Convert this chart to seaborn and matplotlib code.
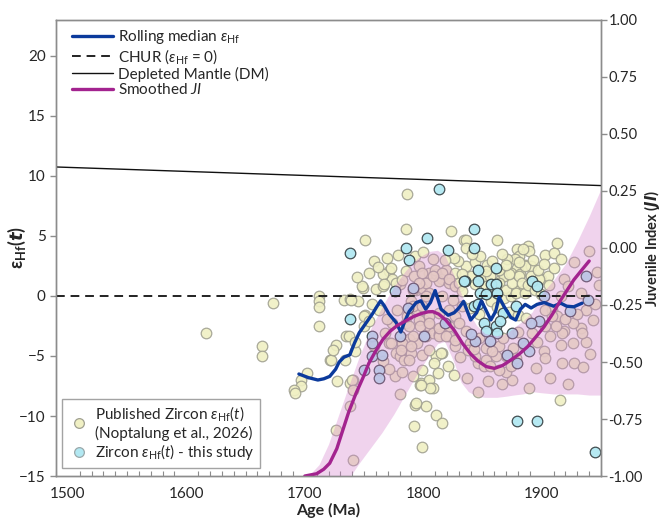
import matplotlib
matplotlib.use("Agg")
import matplotlib.pyplot as plt
from matplotlib.lines import Line2D
from matplotlib.ticker import MultipleLocator
import seaborn as sns

# ---- data ----
# published zircon eHf(t)
pub_age = [1617, 1664, 1664, 1673, 1712, 1712, 1712, 1712, 1721, 1702, 1697, 1697, 1691, 1692,
           1785, 1786, 1751, 1754, 1771, 1785, 1792, 1749, 1760, 1766, 1774, 1780, 1733, 1738,
           1745, 1751, 1750, 1735, 1742, 1726, 1722, 1727, 1738, 1741, 1780, 1798, 1805, 1808,
           1816, 1811, 1799, 1794, 1799, 1805, 1811, 1816, 1790, 1794, 1801, 1805, 1788, 1782,
           1777, 1771, 1768, 1780, 1784, 1790, 1795, 1802, 1808, 1813, 1818, 1823, 1834, 1793,
           1766, 1773, 1796, 1748, 1767, 1777, 1782, 1739, 1724, 1750, 1754, 1737, 1742, 1734,
           1740, 1741, 1738, 1726, 1741, 1793, 1802, 1811, 1816, 1792, 1799, 1797, 1809, 1815,
           1837, 1799, 1810, 1819, 1827, 1802, 1813, 1822, 1830, 1805, 1816, 1825, 1791, 1799,
           1774, 1785, 1796, 1805, 1813, 1822, 1827, 1833, 1782, 1791, 1813, 1822, 1827, 1781,
           1788, 1776, 1805, 1802, 1773, 1790, 1794, 1806, 1798, 1846, 1915, 1836, 1836, 1862,
           1913, 1888, 1889, 1879, 1881, 1903, 1910, 1916, 1877, 1886, 1891, 1879, 1836, 1854,
           1851, 1840, 1864, 1868, 1874, 1882, 1891, 1899, 1905, 1868, 1874, 1879, 1885, 1916,
           1940, 1947, 1948, 1927, 1919, 1922, 1933, 1919, 1933, 1937, 1927, 1916, 1902, 1903,
           1909, 1913, 1895, 1875, 1870, 1846, 1851, 1876, 1816, 1822, 1827, 1808, 1796, 1791,
           1788, 1797, 1805, 1813, 1822, 1830, 1836, 1819, 1827, 1839, 1847, 1853, 1864, 1870,
           1844, 1853, 1861, 1856, 1864, 1874, 1878, 1886, 1892, 1903, 1909, 1903, 1917, 1926,
           1926, 1934, 1937, 1917, 1830, 1833, 1844, 1853, 1850, 1864, 1870, 1875, 1881, 1886,
           1881, 1891, 1898, 1878, 1886, 1872, 1861, 1856, 1853, 1864, 1844,
           1871, 1884, 1893, 1897, 1883, 1870, 1858, 1848, 1866, 1888, 1894, 1899, 1906, 1910,
           1902, 1857, 1862, 1872, 1880, 1887, 1847, 1839, 1833, 1829, 1841, 1826, 1818, 1808,
           1800, 1779, 1769, 1758, 1762, 1744, 1757, 1763, 1769, 1778, 1786, 1758, 1766, 1771,
           1782, 1791, 1799, 1812, 1821, 1826, 1831, 1838, 1843, 1858, 1867, 1880, 1896, 1907,
           1912, 1920, 1930, 1943, 1945, 1941, 1935, 1922, 1907, 1889, 1866, 1855]
pub_eps = [-3.1, -4.2, -5.0, -0.6, 0.0, -0.4, -0.9, -2.5, -5.3, -6.4, -7.0, -7.5, -7.8, -8.1,
           5.55, 8.5, 4.7, 1.9, 2.1, 2.1, 1.65, 0.7, 0.6, 0.8, 1.4, 1.0, -0.3, -0.25,
           -0.45, -1.55, -2.5, -3.35, -4.6, -4.1, -5.3, -7.1, -7.25, -7.0, -8.2, -7.25, -7.0, -7.7,
           -4.75, -5.0, -4.9, 0.54, 0.68, 1.9, 1.8, 1.4, -0.43, -1.1, -2.0, -2.5, -3.6, -4.2,
           -4.75, -3.9, -3.1, -5.0, -5.3, -4.75, -3.9, -3.35, -3.1, -3.2, -2.5, 5.4, 4.7, 3.3,
           1.8, 2.35, 2.5, 0.8, 1.0, 1.1, 1.3, -0.35, -4.5, -1.7, -2.1, -3.35, -3.8, -5.3,
           -7.0, -7.8, -9.2, -11.15, -13.65, -9.05, -9.2, -9.9, -10.6, -10.8, -12.6, -7.4, -5.6, -4.75,
           -6.8, 1.94, 2.2, 2.2, 1.94, 1.1, 1.24, 1.1, 0.82, 0.27, 0.0, -0.3, -0.85, -0.85,
           -2.24, -2.24, -1.96, -1.7, -1.4, -1.13, -1.7, -0.85, -3.9, -3.35, -3.35, -3.35, -4.2, -4.47,
           -5.3, -6.7, -4.47, 0.0, -3.9, -4.2, -8.9, -7.7, -7.4, -8.0, -8.65, 4.7, 4.0, 4.7,
           4.45, 4.2, 3.75, 3.9, 3.3, 3.4, 3.55, 3.05, 3.05, 2.6, 2.5, 2.35, 2.5, 2.6,
           1.8, 1.65, 1.24, 1.65, 1.94, 1.8, 1.65, 1.38, 1.65, -0.15, 0.0, 0.4, 0.54, 0.0,
           3.75, 2.0, 0.88, 2.8, 1.38, 0.82, 0.27, -2.94, -2.66, -3.86, -5.6, -4.05, -4.6, -5.15,
           -1.13, -1.7, -6.0, -7.0, -6.3, -5.6, -5.86, -4.33, 1.94, 1.38, 0.82, 1.65, 1.1, 0.54,
           -2.5, -2.5, -2.24, -2.66, -2.5, -2.24, -2.94, -3.35, -3.63, -3.9, -3.5, -4.33, -4.2, -5.0,
           -5.0, -5.3, -5.0, -5.86, -6.15, -5.86, -5.15, -4.2, -3.07, -2.5, -1.7, -1.13, -3.07, -2.24,
           -3.9, -3.07, -1.13, -5.6, 1.1, 1.8, 0.96, 0.82, 1.65, 1.1, 0.54, 1.1, 1.65, 2.5,
           2.8, 1.1, 1.4, 0.27, 0.27, 1.8, 0.27, 1.65, 2.1, 2.2, 2.8,
           3.05, 3.9, 3.0, 2.2, 1.1, 2.6, 2.9, 3.3, 3.5, 0.9, 0.5, 0.2, 0.9, 2.3,
           2.7, -0.4, -0.9, -1.3, -1.6, -1.8, -1.5, -1.0, 0.4, 2.9, 3.5, 3.2, 3.0, 3.1,
           3.7, 3.4, 3.2, 2.9, 2.4, 1.6, -0.7, -1.2, -1.9, -1.2, -1.7, -4.2, -5.4, -6.1,
           -6.3, -6.7, -6.2, -6.4, -5.8, -6.6, -5.1, -4.5, -4.4, -4.6, -3.5, -3.0, -3.8, -3.3,
           -2.5, -1.9, -1.5, -2.0, -0.7, -4.8, -5.9, -7.3, -6.8, -7.7, -7.3, -7.1]

# zircon eHf(t), this study
new_age = [1803, 1785, 1788, 1738, 1821, 1776, 1738, 1813, 1843, 1843, 1846, 1861, 1835, 1846,
           1857, 1861, 1892, 1896, 1848, 1853, 1862, 1843, 1846, 1878, 1867, 1851, 1853, 1861,
           1865, 1862, 1879, 1896, 1945, 1834, 1757, 1757, 1765, 1750, 1763, 1763, 1791, 1787,
           1780, 1801, 1818, 1757, 1902, 1924, 1937, 1939, 1898, 1891, 1875, 1884, 1889, 1871,
           1879, 1844, 1856, 1840]
new_eps = [4.85, 4.0, 3.0, 3.6, 3.85, 0.4, -1.9, 8.9, 5.6, 3.97, 2.15, 2.35, 1.24, 1.24,
           0.96, 0.96, 1.24, 0.82, 0.27, 0.13, 0.27, -0.85, -0.7, -0.85, -1.4, -2.24, -2.94, -2.52,
           -2.1, -3.07, -10.45, -10.45, -13.0, 1.25, -3.35, -5.0, -4.9, -6.2, -6.2, -6.8, 0.68, -1.0,
           -3.35, -3.35, -2.25, -3.9, 0.0, -1.27, 1.7, -0.3, -2.1, -2.24, -3.07, -3.9, -4.6, -4.9,
           -5.6, -3.78, -3.78, -3.2]

# rolling median eHf
med_age = [1695, 1703, 1711, 1716, 1721, 1726, 1729, 1733, 1738, 1742, 1746, 1752, 1757, 1761,
           1764, 1767, 1771, 1777, 1781, 1784, 1788, 1794, 1798, 1802, 1806, 1810, 1815, 1821,
           1826, 1830, 1834, 1840, 1845, 1849, 1854, 1857, 1861, 1864, 1868, 1874, 1878, 1882,
           1886, 1891, 1896, 1902, 1910, 1916, 1921, 1927, 1934]
med_eps = [-6.5, -6.8, -7.0, -6.9, -6.7, -6.1, -5.5, -5.1, -4.9, -3.9, -3.05, -2.2, -1.5, -0.85,
           -0.4, -0.8, -1.5, -2.2, -3.0, -2.2, -1.3, -0.55, -0.4, -1.1, -0.55, 0.45, -1.1, -1.6,
           -1.4, -1.0, -0.45, -2.0, -1.4, -0.4, -1.4, -2.0, -1.3, -0.1, -0.85, -1.8, -2.0, -1.1,
           -0.7, -1.0, -0.7, -0.55, -0.85, -0.6, -0.85, -0.9, -0.6]

# depleted mantle
dm_age = [1490, 1950]
dm_eps = [10.75, 9.2]

# smoothed juvenile index and its band
ji_age = [1700, 1710, 1716, 1721, 1727, 1732, 1737, 1743, 1749, 1754, 1760, 1766, 1772, 1778,
          1785, 1792, 1798, 1804, 1808, 1813, 1819, 1826, 1833, 1840, 1846, 1853, 1860, 1867,
          1874, 1881, 1888, 1895, 1902, 1909, 1916, 1922, 1927, 1934, 1940]
ji_val = [-1.0, -0.99, -0.97, -0.944, -0.88, -0.80, -0.72, -0.64, -0.57, -0.506, -0.45, -0.40,
          -0.365, -0.34, -0.32, -0.30, -0.288, -0.28, -0.279, -0.29, -0.316, -0.36, -0.418, -0.465,
          -0.495, -0.52, -0.528, -0.515, -0.491, -0.465, -0.433, -0.39, -0.345, -0.29, -0.228,
          -0.18, -0.14, -0.095, -0.057]
band_age = [1703, 1712, 1720, 1728, 1736, 1745, 1755, 1765, 1775, 1785, 1795, 1805, 1812, 1818,
            1825, 1832, 1838, 1845, 1852, 1862, 1870, 1876, 1884, 1892, 1900, 1910, 1920, 1930,
            1940, 1950]
band_lo = [-1.05, -1.05, -1.05, -1.05, -1.02, -0.95, -0.88, -0.81, -0.73, -0.64, -0.55, -0.47,
           -0.42, -0.41, -0.49, -0.59, -0.63, -0.65, -0.655, -0.655, -0.65, -0.645, -0.64, -0.63,
           -0.635, -0.64, -0.64, -0.64, -0.645, -0.645]
band_hi = [-1.0, -0.95, -0.86, -0.74, -0.62, -0.49, -0.36, -0.26, -0.17, -0.10, -0.045, -0.015,
           -0.01, -0.03, -0.11, -0.20, -0.28, -0.34, -0.375, -0.385, -0.375, -0.35, -0.32, -0.28,
           -0.20, -0.14, -0.07, 0.03, 0.14, 0.26]

# ---- style ----
sns.set_theme(style="white")
plt.rcParams["font.family"] = ["Lato", "DejaVu Sans"]
plt.rcParams["mathtext.fontset"] = "custom"
plt.rcParams["mathtext.rm"] = "Lato"
plt.rcParams["mathtext.it"] = "Lato:italic"
plt.rcParams["mathtext.bf"] = "Lato:bold"
plt.rcParams["mathtext.fallback"] = "stixsans"

YELLOW = "#f0f0c4"
CYAN = "#b2e8f2"
PINK = "#d27ccb"
BLUE = "#0b3a9c"
PURPLE = "#a3238f"
GREY = "#8c8c8c"

fig = plt.figure(figsize=(6.62, 5.25), dpi=100)
ax = fig.add_axes([0.0846, 0.0933, 0.8233, 0.8687])
ax2 = ax.twinx()
ax2.set_ylim(-1, 1)

sns.scatterplot(x=pub_age, y=pub_eps, ax=ax, s=58, color=YELLOW, edgecolor="#a0a090",
                linewidth=0.9, alpha=0.9, zorder=2)
sns.scatterplot(x=new_age, y=new_eps, ax=ax, s=58, color=CYAN, edgecolor="#3a4548",
                linewidth=0.9, alpha=0.95, zorder=2.5)

# JI band drawn above the points, in right-axis units
ax.fill_between(band_age, band_lo, band_hi, transform=ax2.transData, color=PINK,
                alpha=0.33, lw=0, zorder=3)

ax.axhline(0, color="#222222", lw=1.4, ls=(0, (4.5, 3)), zorder=4)
sns.lineplot(x=dm_age, y=dm_eps, ax=ax, color="#111111", lw=1.0, zorder=4)
sns.lineplot(x=med_age, y=med_eps, ax=ax, color=BLUE, lw=2.4, zorder=6, sort=False)
sns.lineplot(x=ji_age, y=ji_val, ax=ax, color=PURPLE, lw=2.4, zorder=6, sort=False,
             transform=ax2.transData)

ax.set_xlim(1490, 1950)
ax.set_ylim(-15, 23)
ax.set_yticks([-15, -10, -5, 0, 5, 10, 15, 20])
ax.xaxis.set_minor_locator(MultipleLocator(10))
ax.set_xticks(range(1500, 2000, 100))
ji_ticks = [-1, -0.75, -0.5, -0.25, 0, 0.25, 0.5, 0.75, 1]
ax2.set_yticks(ji_ticks)
ax2.set_yticklabels([f"{v:.2f}" for v in ji_ticks])

for a in (ax, ax2):
    for sp in a.spines.values():
        sp.set_color(GREY)
        sp.set_linewidth(1.0)
ax.tick_params(axis="x", which="major", direction="inout", length=8, width=1,
               color=GREY, labelsize=11, pad=4)
ax.tick_params(axis="x", which="minor", direction="in", length=3.5, width=0.8,
               color=GREY, bottom=True)
ax.tick_params(axis="y", direction="out", length=4, width=1, color=GREY,
               labelsize=11, left=True)
ax2.tick_params(axis="y", direction="out", length=4, width=1, color=GREY,
                labelsize=10.5, right=True, pad=1.2)

ax.set_xlabel("Age (Ma)", fontsize=11.5, fontweight="bold", labelpad=1)
ax.set_ylabel(r"$\mathbf{\varepsilon_{Hf}(}\mathbfit{t}\mathbf{)}$", fontsize=13)
ax.yaxis.set_label_coords(-0.052, 0.5)
ax2.set_ylabel(r"Juvenile Index ($\mathbfit{JI}$)", fontsize=10.5, fontweight="bold")
ax2.yaxis.set_label_coords(1.076, 0.5)

line_handles = [
    Line2D([], [], color=BLUE, lw=2.4),
    Line2D([], [], color="#222222", lw=1.4, ls=(0, (4.5, 3))),
    Line2D([], [], color="#111111", lw=1.0),
    Line2D([], [], color=PURPLE, lw=2.4),
]
line_labels = [r"Rolling median $\varepsilon_{\rm Hf}$",
               r"CHUR ($\varepsilon_{\rm Hf}$ = 0)",
               "Depleted Mantle (DM)",
               r"Smoothed $\it{JI}$"]
leg1 = ax.legend(line_handles, line_labels, loc="upper left", bbox_to_anchor=(0.018, 0.995),
                 frameon=False, fontsize=11, handlelength=2.7, handletextpad=0.3,
                 labelspacing=0.05, borderaxespad=0)
ax.add_artist(leg1)

pt_handles = [
    Line2D([], [], ls="", marker="o", markersize=7, markerfacecolor=YELLOW,
           markeredgecolor="#a0a090", markeredgewidth=0.9),
    Line2D([], [], ls="", marker="o", markersize=7, markerfacecolor=CYAN,
           markeredgecolor="#9aa8aa", markeredgewidth=0.9),
]
pt_labels = [r"Published Zircon $\varepsilon_{\rm Hf}(t)$" + "\n(Noptalung et al., 2026)",
             r"Zircon $\varepsilon_{\rm Hf}(t)$ - this study"]
leg2 = ax.legend(pt_handles, pt_labels, loc="lower left", bbox_to_anchor=(0.011, 0.018),
                 frameon=True, fancybox=False, fontsize=11, handletextpad=0.3,
                 labelspacing=0.1, borderaxespad=0, borderpad=0.35, handlelength=1.5)
leg2.get_frame().set_edgecolor(GREY)
leg2.get_frame().set_linewidth(1.0)

fig.savefig("out.png", dpi=100)
